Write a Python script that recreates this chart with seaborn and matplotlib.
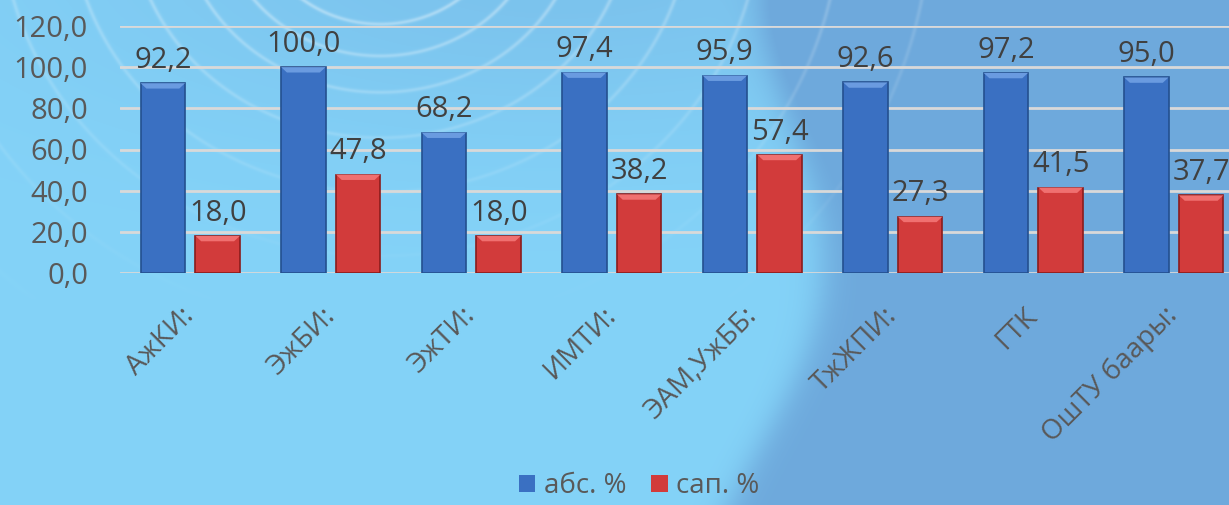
import numpy as np
import pandas as pd
import seaborn as sns
import matplotlib
import matplotlib.pyplot as plt
from matplotlib.patches import Polygon

matplotlib.use('Agg')

# data
categories = ["АжКИ:", "ЭжБИ:", "ЭжТИ:", "ИМТИ:", "ЭАМ,УжББ:", "ТжЖПИ:", "ГТК", "ОшТУ баары:"]
abs_pct = [92.2, 100.0, 68.2, 97.4, 95.9, 92.6, 97.2, 95.0]
sap_pct = [18.0, 47.8, 18.0, 38.2, 57.4, 27.3, 41.5, 37.7]
series_names = ["абс. %", "сап. %"]
y_ticks = [0, 20, 40, 60, 80, 100, 120]

df = pd.DataFrame({
    "cat": categories * 2,
    "val": abs_pct + sap_pct,
    "series": [series_names[0]] * len(categories) + [series_names[1]] * len(categories),
})

sns.set_style("white")
plt.rcParams['font.family'] = ['Open Sans', 'DejaVu Sans']

W, H = 1229, 505
fig = plt.figure(figsize=(W / 100, H / 100), dpi=100)

# ---------------------------------------------------------
# background: light blue, darker wave on the right, faint rings
# ---------------------------------------------------------
yy, xx = np.mgrid[0:H, 0:W].astype(float)
light = np.array([0x84, 0xd3, 0xf8]) / 255
dark = np.array([0x6e, 0xa9, 0xdc]) / 255
wave_x = 805 + 45 * np.sin((yy - 130) / 100) - 0.1 * yy
mask = 1 / (1 + np.exp(-(xx - wave_x) / 10))
mask = np.clip(mask + 0.4 * np.exp(-((xx - 560) ** 2 / 2.5e5 + (yy + 40) ** 2 / 3e4)), 0, 1)
img = light[None, None, :] * (1 - mask[..., None]) + dark[None, None, :] * mask[..., None]
r = np.hypot(xx - 380, (yy + 90) * 1.1)
rings = np.zeros_like(r)
for k, rad in enumerate([125, 160, 200, 250, 310, 380, 460, 550]):
    rings += np.exp(-((r - rad) / 2.2) ** 2) * (0.35 - 0.03 * k)
rings *= np.clip(1 - yy / 300, 0, 1)
img = img + (1 - img) * rings[..., None]

bg = fig.add_axes([0, 0, 1, 1])
bg.imshow(np.clip(img, 0, 1), extent=[0, W, H, 0], aspect='auto')
bg.axis('off')

# ---------------------------------------------------------
# bars
# ---------------------------------------------------------
blue, red = "#3a70c2", "#d23b3b"
ax = fig.add_axes([120 / W, 232 / H, 1124 / W, 247 / H])
ax.patch.set_alpha(0)
sns.barplot(data=df, x="cat", y="val", hue="series", palette=[blue, red],
            width=0.78, gap=0.19, saturation=1, ax=ax, linewidth=0)

edges = {blue: "#24508f", red: "#8a1c1c"}
tops = {blue: "#6a9be0", red: "#f07070"}
for cont, col in zip(ax.containers, [blue, red]):
    for p in cont.patches:
        p.set_edgecolor(edges[col])
        p.set_linewidth(1.2)
        x0, w, h = p.get_x(), p.get_width(), p.get_height()
        dx, dy = w * 0.13, 2.6
        ax.add_patch(Polygon([(x0, h), (x0 + w, h), (x0 + w - dx, h - dy), (x0 + dx, h - dy)],
                             closed=True, facecolor=tops[col], edgecolor='none', zorder=p.get_zorder() + 0.1))
    ax.bar_label(cont, labels=[f"{v:.1f}".replace('.', ',') for v in cont.datavalues],
                 padding=6, fontsize=21, color="#404040")

ax.set_ylim(0, 120)
ax.set_yticks(y_ticks)
ax.set_yticklabels([f"{v:.1f}".replace('.', ',') for v in y_ticks], fontsize=21, color="#595959")
ax.yaxis.grid(True, color="#d9d9d9", linewidth=2)
ax.set_axisbelow(True)
ax.tick_params(axis='y', length=0, pad=23)
ax.tick_params(axis='x', length=0, pad=28)
plt.setp(ax.get_xticklabels(), rotation=45, ha='right', va='center',
         rotation_mode='anchor', fontsize=20, color="#595959")
ax.set_xlabel("")
ax.set_ylabel("")
sns.despine(ax=ax, left=True, bottom=True)

handles, labels = ax.get_legend_handles_labels()
ax.get_legend().remove()
for hd, col in zip(handles, [blue, red]):
    hd.set_edgecolor(edges[col])
fig.legend(handles, labels, loc='lower center', bbox_to_anchor=(0.52, -0.04), ncol=2,
           frameon=False, fontsize=20, handlelength=0.6, handleheight=0.6,
           handletextpad=0.3, columnspacing=0.9, labelcolor="#595959")

fig.savefig("out.png", dpi=100)
